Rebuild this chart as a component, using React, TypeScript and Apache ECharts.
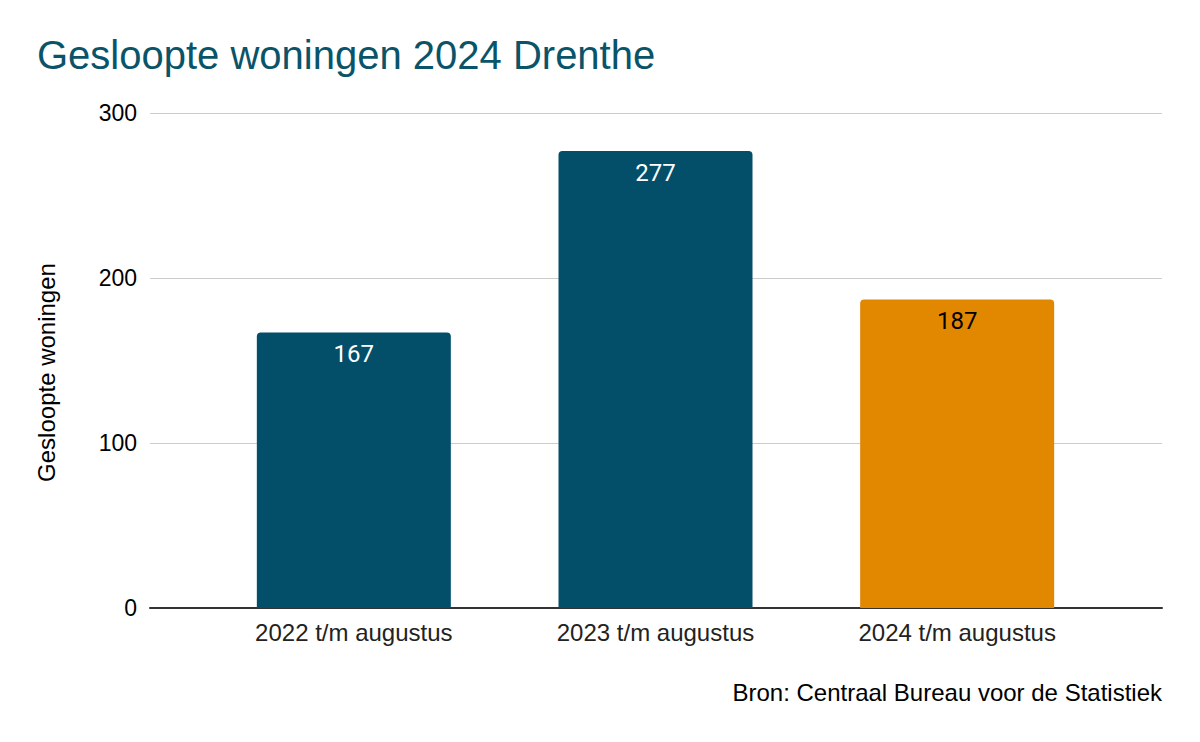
import React, { useEffect, useRef } from "react";
import * as echarts from "echarts";

const categories = ["2022 t/m augustus", "2023 t/m augustus", "2024 t/m augustus"];
const values = [167, 277, 187];
const barColors = ["#034f69", "#034f69", "#e28700"];
const labelColors = ["#ffffff", "#ffffff", "#000000"];
const yTicks = [0, 100, 200, 300];

export default function App() {
  const ref = useRef<HTMLDivElement>(null);
  useEffect(() => {
    document.body.style.margin = "0";
    const chart = echarts.init(ref.current!, null, { renderer: "svg" });
    const font = "'Liberation Sans', Arial, sans-serif";
    chart.setOption({
      animation: false,
      backgroundColor: "#ffffff",
      title: [
        {
          text: "Gesloopte woningen 2024 Drenthe",
          left: 32,
          top: 30,
          textStyle: { fontFamily: font, fontSize: 40, fontWeight: "normal", color: "#0a5469" },
        },
        {
          text: "Bron: Centraal Bureau voor de Statistiek",
          right: 33,
          top: 675,
          textStyle: { fontFamily: font, fontSize: 24, fontWeight: "normal", color: "#000000" },
        },
      ],
      grid: [
        { left: 150, right: 38, top: 113, bottom: 134 },
        { left: 203, right: 92, top: 113, bottom: 134 },
      ],
      xAxis: [
        {
          type: "category",
          gridIndex: 0,
          data: categories,
          axisLine: { show: true, lineStyle: { color: "#333333", width: 2 } },
          axisTick: { show: false },
          axisLabel: { show: false },
          splitLine: { show: false },
        },
        {
          type: "category",
          gridIndex: 1,
          data: categories,
          axisLine: { show: false },
          axisTick: { show: false },
          axisLabel: { fontFamily: font, fontSize: 24, color: "#222222", margin: 12 },
        },
      ],
      yAxis: [
        {
          type: "value",
          gridIndex: 0,
          min: yTicks[0],
          max: yTicks[yTicks.length - 1],
          interval: 100,
          name: "Gesloopte woningen",
          nameLocation: "middle",
          nameGap: 92,
          nameTextStyle: { fontFamily: font, fontSize: 24, color: "#000000", padding: [0, 24, 0, 0] },
          axisLine: { show: false },
          axisTick: { show: false },
          axisLabel: { fontFamily: font, fontSize: 23, color: "#000000", margin: 13 },
          splitLine: { show: true, lineStyle: { color: "#cccccc", width: 1 } },
        },
        {
          type: "value",
          gridIndex: 1,
          min: yTicks[0],
          max: yTicks[yTicks.length - 1],
          interval: 100,
          show: false,
          splitLine: { show: false },
        },
      ],
      series: [
        {
          type: "bar",
          xAxisIndex: 1,
          yAxisIndex: 1,
          barWidth: 194,
          data: values.map((v, i) => ({
            value: v,
            itemStyle: { color: barColors[i], borderRadius: [4, 4, 0, 0] },
            label: { color: labelColors[i] },
          })),
          label: {
            show: true,
            position: "insideTop",
            distance: 10,
            fontFamily: "Roboto, sans-serif",
            fontSize: 24,
          },
        },
      ],
    });
    return () => chart.dispose();
  }, []);
  return <div ref={ref} style={{ width: 1200, height: 742 }} />;
}
